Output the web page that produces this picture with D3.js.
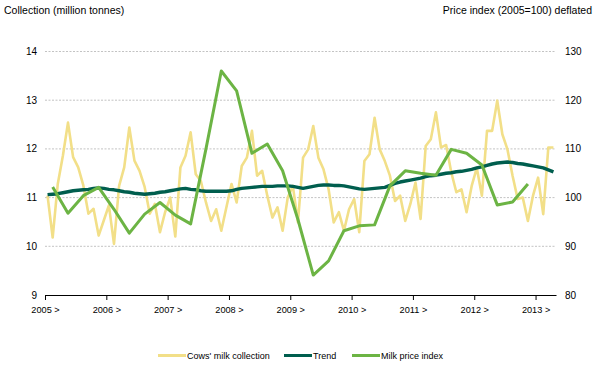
<!DOCTYPE html>
<html><head><meta charset="utf-8">
<script src="https://cdn.jsdelivr.net/npm/d3@7"></script>
<style>body{margin:0;background:#fff}svg{display:block}text{font-family:"Liberation Sans",Arial,sans-serif;fill:#000}</style>
</head><body><svg id="c" width="595" height="368"></svg>
<script>
// Years shown on x axis
const years = ["2005","2006","2007","2008","2009","2010","2011","2012","2013"];
// Monthly cows' milk collection (million tonnes), Jan 2005 - Apr 2013
const collection = [
 11.04,10.18,11.28,11.86,12.54,11.83,11.62,11.25,10.67,10.77,10.22,10.53,
 10.84,10.05,11.24,11.62,12.44,11.76,11.55,11.22,10.67,10.87,10.29,10.70,
 11.00,10.20,11.62,11.86,12.34,11.48,11.34,10.90,10.52,10.76,10.32,10.80,
 11.28,10.90,11.65,11.82,12.37,11.45,11.55,11.04,10.59,10.80,10.32,11.00,
 11.24,10.49,11.82,11.99,12.47,11.82,11.58,11.17,10.49,10.70,10.32,10.76,
 10.97,10.29,11.75,11.89,12.64,11.99,11.75,11.45,10.93,11.04,10.52,10.87,
 11.31,10.56,12.06,12.20,12.75,12.03,12.08,11.52,11.11,11.17,10.70,11.24,
 11.61,11.04,12.37,12.37,12.99,12.30,11.99,11.45,10.97,11.00,10.52,11.04,
 11.41,10.66,12.03,12.03
];
// Monthly trend (million tonnes)
const trend = [
 11.06,11.07,11.08,11.10,11.12,11.14,11.15,11.16,11.17,11.19,11.20,11.19,
 11.17,11.16,11.14,11.12,11.11,11.09,11.08,11.07,11.08,11.09,11.11,11.12,
 11.14,11.16,11.18,11.19,11.17,11.16,11.14,11.13,11.13,11.13,11.13,11.13,
 11.14,11.17,11.19,11.20,11.21,11.22,11.23,11.23,11.23,11.24,11.24,11.24,
 11.23,11.21,11.19,11.21,11.23,11.25,11.26,11.26,11.25,11.25,11.24,11.22,
 11.20,11.18,11.17,11.18,11.19,11.20,11.21,11.25,11.29,11.32,11.34,11.36,
 11.38,11.40,11.43,11.45,11.46,11.48,11.50,11.51,11.53,11.54,11.56,11.58,
 11.61,11.63,11.66,11.69,11.71,11.72,11.73,11.72,11.70,11.69,11.67,11.65,
 11.63,11.61,11.57,11.53
];
// Quarterly milk price index (2005=100, deflated), mid-quarter months from Feb 2005
const priceMonths = d3.range(1, 95, 3);
const priceIndex = [
 102.2,96.8,100.4,102.1,97.6,92.7,96.6,99.0,96.4,94.6,110.0,126.0,
 121.9,109.1,111.0,105.5,95.5,84.1,87.0,93.2,94.2,94.4,102.4,105.5,
 105.0,104.6,109.9,109.1,106.7,98.5,99.1,102.8
];
const leftTicks = [9,10,11,12,13,14];
const rightTicks = [80,90,100,110,120,130];
const legendLabels = ["Cows' milk collection","Trend","Milk price index"];
const colors = ["#f2df88","#005e4e","#6cb444"];

const svg = d3.select("#c");
const x = d3.scaleLinear().domain([0,100]).range([45,556]);
const yL = d3.scaleLinear().domain([9,14]).range([295,51.5]);
const yR = d3.scaleLinear().domain([80,130]).range([295,51.5]);
const fs = "10.5px";

// gridlines
svg.append("g").selectAll("line").data(leftTicks.slice(1)).join("line")
  .attr("x1",45).attr("x2",556).attr("y1",d=>yL(d)).attr("y2",d=>yL(d))
  .attr("stroke","#b4b4b4").attr("stroke-width",0.8).attr("stroke-dasharray","2,1.5");

// left labels
svg.append("g").selectAll("text").data(leftTicks).join("text")
  .attr("x",37).attr("y",d=>yL(d)).attr("dy","0.35em").attr("text-anchor","end")
  .style("font-size","10px").text(d=>d);
// right labels
svg.append("g").selectAll("text").data(rightTicks).join("text")
  .attr("x",565).attr("y",d=>yR(d)).attr("dy","0.35em").attr("text-anchor","start")
  .style("font-size","10px").text(d=>d);

// x axis
const xAxis = d3.axisBottom(x).tickValues(years.map((d,i)=>i*12)).tickSize(5).tickSizeOuter(0)
  .tickFormat((d,i)=>years[i]+" >");
const gx = svg.append("g").attr("transform","translate(0,295)").call(xAxis);
gx.select(".domain").attr("stroke","#000").attr("stroke-width",1.2);
gx.selectAll(".tick line").attr("stroke","#000").attr("stroke-width",1);
gx.selectAll(".tick text").attr("y",11).attr("dy","0.71em").style("font-size","9.2px").style("font-family",'"Liberation Sans",Arial,sans-serif').attr("fill","#000");

// titles
svg.append("text").attr("x",4).attr("y",14).style("font-size",fs).text("Collection (million tonnes)");
svg.append("text").attr("x",592).attr("y",14).attr("text-anchor","end").style("font-size",fs).text("Price index (2005=100) deflated");

// lines
const lineL = d3.line().x((d,i)=>x(i+0.5)).y(d=>yL(d));
svg.append("path").datum(collection).attr("d",lineL).attr("fill","none")
  .attr("stroke",colors[0]).attr("stroke-width",2.6).attr("stroke-linejoin","round");
svg.append("path").datum(trend).attr("d",lineL).attr("fill","none")
  .attr("stroke",colors[1]).attr("stroke-width",3.4).attr("stroke-linejoin","round");
const lineP = d3.line().x((d,i)=>x(priceMonths[i]+0.5)).y(d=>yR(d));
svg.append("path").datum(priceIndex).attr("d",lineP).attr("fill","none")
  .attr("stroke",colors[2]).attr("stroke-width",3).attr("stroke-linejoin","round");

// legend
const lx = [158,284,352];
const lg = svg.append("g");
legendLabels.forEach((t,i)=>{
  lg.append("line").attr("x1",lx[i]).attr("x2",lx[i]+28).attr("y1",355.5).attr("y2",355.5)
    .attr("stroke",colors[i]).attr("stroke-width",3);
  lg.append("text").attr("x",lx[i]+29).attr("y",355.5).attr("dy","0.35em").style("font-size","9px").text(t);
});
</script></body></html>
